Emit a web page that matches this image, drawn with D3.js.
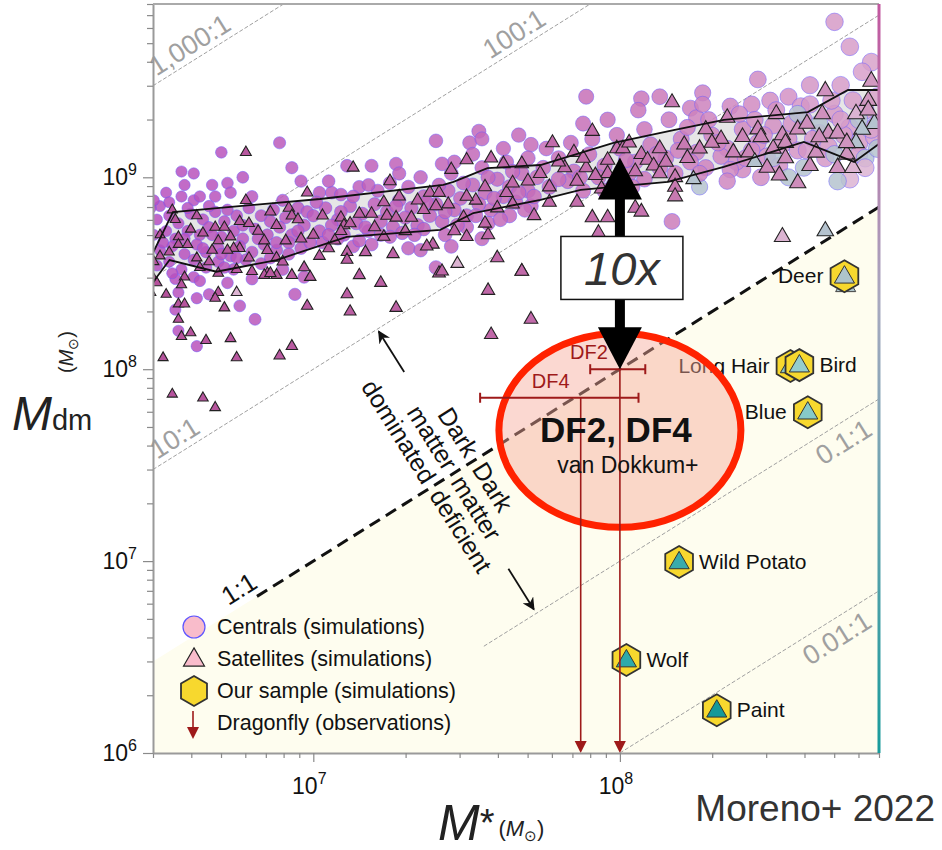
<!DOCTYPE html>
<html>
<head>
<meta charset="utf-8">
<script src="https://cdn.jsdelivr.net/npm/d3@7"></script>
<style>
body { margin: 0; background: #fff; }
svg text { font-family: "Liberation Sans", Helvetica, Arial, sans-serif; }
</style>
</head>
<body>
<div id="chart"></div>
<script>
// all simulation points are log10(M*), log10(Mdm); third item "g" = grey-blue, "p" = pale
const centrals = [
  [6.89,9.18],[6.70,9.13],[6.57,9.03],[6.61,9.02],[6.77,9.00],[6.93,9.05],[6.96,8.98],[6.72,8.97],[6.67,8.96],
  [6.58,8.96],[6.52,8.92],[6.73,8.92],[6.68,8.90],[6.57,8.90],[6.61,8.88],[6.50,8.85],[6.47,8.84],
  [6.49,8.78],[6.53,8.80],[6.56,8.76],[6.60,8.81],[6.64,8.78],[6.68,8.82],[6.71,8.77],[6.75,8.80],[6.79,8.84],
  [6.83,8.80],[6.87,8.83],[6.91,8.79],[6.95,8.84],
  [6.48,8.70],[6.52,8.72],[6.55,8.68],[6.59,8.72],[6.63,8.70],[6.66,8.74],[6.70,8.69],[6.74,8.72],[6.77,8.68],
  [6.81,8.73],[6.85,8.70],[6.89,8.74],[6.93,8.70],[6.97,8.75],
  [6.50,8.62],[6.54,8.64],[6.58,8.60],[6.62,8.65],[6.65,8.61],[6.69,8.63],[6.73,8.59],[6.76,8.64],[6.80,8.61],
  [6.84,8.65],[6.88,8.62],[6.92,8.66],[6.96,8.63],
  [6.49,8.54],[6.53,8.56],[6.57,8.52],[6.61,8.57],[6.65,8.53],[6.69,8.56],[6.74,8.52],[6.78,8.57],[6.83,8.55],
  [6.55,8.47],[6.61,8.48],[6.63,8.46],[6.72,8.45],[6.62,8.37],[6.66,8.39],[6.76,8.33],[6.94,8.39],[6.56,8.40],
  [6.97,8.48],[6.81,8.26],[6.55,8.31],[6.56,8.20],[6.62,8.12],
  [6.48,8.88],[6.51,8.66],[6.54,8.50],[6.59,8.84],[6.63,8.90],[6.66,8.85],[6.70,8.60],[6.72,8.83],[6.77,8.75],
  [6.80,8.90],[6.82,8.68],[6.86,8.77],[6.86,8.58],[6.90,8.88],[6.92,8.60],[6.95,8.72],[6.98,8.82],[6.99,8.66],
  [6.46,8.62],[6.46,8.76],[6.53,8.87],[6.64,8.63],[6.71,8.53],[6.80,8.47],[6.90,8.52],[6.58,8.68],[6.67,8.70],
  [6.75,8.58],[6.88,8.66],
  [7.02,8.92],[7.06,8.92],[7.09,8.91],[7.54,9.24],[7.51,9.18],[7.40,9.19],[7.55,9.20],[7.67,9.22],[7.71,9.17],
  [7.19,9.06],[7.27,9.07],[7.11,9.06],[7.46,9.08],[7.31,8.63],[7.40,8.53],[7.13,8.64],[7.19,8.65],
  [7.00,8.80],[7.04,8.84],[7.08,8.78],[7.12,8.85],[7.16,8.81],[7.20,8.86],[7.24,8.82],[7.28,8.88],[7.32,8.84],
  [7.36,8.90],[7.40,8.86],[7.44,8.93],[7.48,8.89],[7.52,8.96],[7.56,8.92],[7.60,8.99],[7.64,8.95],[7.68,9.02],
  [7.02,8.72],[7.06,8.75],[7.10,8.70],[7.14,8.76],[7.18,8.72],[7.22,8.77],[7.26,8.74],[7.30,8.79],[7.34,8.75],
  [7.38,8.80],[7.42,8.77],[7.46,8.83],[7.50,8.80],[7.54,8.86],[7.58,8.83],[7.62,8.90],[7.66,8.87],[7.70,8.93],
  [7.03,8.66],[7.08,8.68],[7.15,8.67],[7.22,8.70],[7.29,8.71],[7.36,8.73],[7.43,8.70],[7.50,8.74],[7.57,8.76],
  [7.64,8.80],[7.71,8.85],
  [7.05,8.98],[7.15,8.95],[7.25,8.97],[7.35,9.00],[7.45,9.02],[7.55,9.05],[7.63,9.08],[7.70,9.10],
  [7.01,8.87],[7.05,8.70],[7.09,8.82],[7.13,8.90],[7.17,8.74],[7.21,8.93],[7.25,8.69],[7.27,8.85],[7.31,8.95],
  [7.33,8.70],[7.37,8.87],[7.41,8.96],[7.43,8.82],[7.47,8.75],[7.49,8.97],[7.53,8.80],[7.57,9.00],[7.59,8.89],
  [7.61,8.78],[7.65,9.03],[7.67,8.92],[7.69,8.83],[7.73,9.00],[7.72,8.90],[7.35,8.62],[7.45,8.64],[7.55,8.68],
  [7.18,8.96],[7.28,9.02],[7.42,9.07],[7.52,9.12],[7.62,9.15],
  [7.89,9.42],[8.07,9.41],[8.13,9.42],[8.06,9.35],[8.27,9.44],[8.23,9.36],[8.25,9.31],[7.88,9.28],[7.96,9.30],
  [8.17,8.77],[8.70,9.81],[8.75,9.68],[8.45,9.51],[8.82,9.60],[8.79,9.55],[8.62,9.48],[8.72,9.48],[8.49,9.40],
  [8.55,9.42],[8.59,9.37],[8.43,9.38],[8.36,9.37],[8.75,8.99,"p"],[8.40,9.04],[8.26,8.95,"g"],
  [7.75,9.05],[7.80,9.10],[7.85,9.03],[7.90,9.12],[7.95,9.06],[8.00,9.15],[8.05,9.08],[8.10,9.17],[8.15,9.10],
  [8.20,9.20],[8.25,9.13],[8.30,9.22],[8.35,9.15],[8.40,9.25],[8.45,9.18],[8.50,9.27],[8.55,9.20],[8.60,9.30],
  [8.65,9.23],[8.70,9.33],[8.75,9.26],[8.80,9.35],[8.84,9.28],
  [7.77,8.95],[7.83,8.98],[7.88,8.93],[7.93,9.00],[7.98,8.96],[8.03,9.02],[8.08,8.99],[8.13,9.05],[8.18,9.02],
  [8.23,9.08],[8.28,9.05],[8.33,9.11],[8.38,9.08],[8.43,9.14],[8.48,9.11],[8.53,9.17],[8.58,9.14],[8.63,9.20],
  [8.68,9.16],[8.73,9.22],[8.78,9.18],[8.83,9.21],
  [7.76,9.15],[7.80,8.99],[7.84,9.18],[7.87,9.00],[7.91,9.20],[7.95,8.93],[7.99,9.22],[8.02,9.09],[8.04,8.95],
  [8.08,9.25],[8.12,9.12],[8.16,9.30],[8.19,9.14],[8.22,9.26],[8.26,9.02],[8.29,9.30],[8.32,9.18],[8.36,9.04],
  [8.39,9.33],[8.41,9.10],[8.44,9.30],[8.47,9.22],[8.51,9.35],[8.52,9.06],[8.56,9.28],[8.61,9.14],[8.62,9.38],
  [8.67,9.10],[8.69,9.40],[8.72,9.30],[8.76,9.40],[8.78,9.12],[8.82,9.25],[8.84,9.42],[8.46,9.00],[8.35,8.98],
  [8.27,9.38],
  [8.50,9.10,"g"],[8.60,9.05,"g"],[8.70,9.12,"g"],[8.80,9.10,"g"],[8.65,9.28,"g"],[8.78,9.30,"g"],[8.84,9.15,"g"],
  [8.55,9.00,"g"],[8.80,9.05,"p"],[8.71,8.98,"g"],[8.58,9.33,"g"]
];

const satellites = [
  [6.78,9.13],[7.13,9.05],[6.48,8.47],[6.47,8.40],[6.52,8.39],[6.56,8.34],[6.58,8.34],[6.56,8.26],[6.57,8.17],
  [6.60,8.19],[6.65,8.15],[6.73,8.16],[6.71,8.32],[6.69,8.40],[6.68,8.37],[6.51,8.06],[6.75,8.06],[6.89,8.07],
  [6.93,8.12],[6.98,8.33],[7.11,8.39],[7.12,8.30],[7.15,8.49],[7.22,8.45],[7.27,8.32],[6.54,7.87],[6.64,7.85],
  [6.68,7.80],[7.57,8.41],[7.58,8.18],[7.71,8.26],[7.68,8.51],[7.41,8.50],[6.99,8.48],[6.93,8.49],[6.88,8.49],
  [6.85,8.50],[6.75,8.40,"p"],
  [6.78,8.88],[6.54,8.83],[6.68,8.74],[6.60,8.73],[6.76,8.77],[6.79,8.76],[6.71,8.74],[6.92,8.84],[6.93,8.80],
  [6.56,8.69],[6.64,8.71],[6.69,8.67],[6.73,8.69],[6.76,8.63],[6.84,8.67],[6.88,8.75],[6.91,8.67],[6.96,8.68],
  [6.85,8.62],[6.50,8.59],[6.53,8.61],[6.56,8.65],[6.59,8.65],[6.62,8.58],[6.67,8.62],[6.74,8.63],[6.79,8.58],
  [6.88,8.58],[6.48,8.56],[6.49,8.45],[6.58,8.48],[6.57,8.44],[6.63,8.53],[6.69,8.50],[6.75,8.52],[6.80,8.51],
  [6.84,8.49],[6.86,8.50],[6.90,8.56],[6.97,8.53],[7.02,8.59],[7.05,8.63],[7.09,8.79],[7.10,8.75],[6.98,8.92],
  [6.50,8.70],[6.55,8.78],[6.62,8.80],[6.66,8.56],[6.72,8.62],[6.82,8.72],[6.86,8.82],[6.95,8.78],[7.00,8.70],
  [7.03,8.80],[7.07,8.67],[7.20,8.74],[7.30,8.72],[7.34,8.88],[7.46,8.72],[7.53,8.88],[7.63,8.92],[7.70,8.98],
  [7.72,8.80],
  [7.58,9.10],[7.50,9.09],[7.62,9.07],[7.68,9.07],[7.45,9.04],[7.25,8.98],[7.38,8.92],[7.56,8.95],[7.65,8.97],
  [7.41,8.92],[7.28,8.90],[7.23,8.87],[7.50,8.90],[7.44,8.86],[7.36,8.83],[7.32,8.79],[7.40,8.85],[7.15,8.81],
  [7.19,8.81],[7.12,8.76],[7.09,8.72],[7.24,8.80],[7.27,8.79],[7.49,8.79],[7.60,8.84],[7.65,8.86],[7.56,8.76],
  [7.57,8.70],[7.50,8.69],[7.39,8.65],[7.37,8.64],[7.26,8.60],[7.11,8.61],[7.11,8.57],[7.17,8.61],[7.60,8.58],
  [7.47,8.55,"p"],[7.42,8.51],[7.68,8.51],[7.23,8.69],
  [8.17,9.39],[7.91,9.24],[7.78,9.18],[7.85,9.13],[7.99,9.15],[8.01,9.15],[8.13,9.15],[8.21,9.17],[8.26,9.15],
  [7.96,9.09],[8.07,9.12],[8.09,9.09],[7.82,9.05],[7.74,9.02],[7.89,9.05],[8.11,9.06],[7.96,9.02],[8.13,9.02],
  [7.77,8.95],[7.86,8.98],[7.92,9.01],[8.05,9.03],[8.18,9.00],[8.24,8.99,"g"],[8.18,8.95],[8.18,8.90],[7.86,8.87],
  [7.77,8.87],[8.05,8.84],[8.07,8.82],[7.91,8.79],[7.96,8.79],[7.93,8.71],
  [7.80,9.08],[7.88,9.10],[7.94,8.94],[8.03,9.18],[8.15,9.08],[8.22,9.10],[8.28,9.25],[8.33,9.20],[8.45,9.25],
  [8.50,9.15],[8.58,9.25],[8.62,9.06],[8.74,9.12],[8.83,9.28,"g"],[8.77,9.33,"p"],
  [8.67,9.45],[8.82,9.50],[8.51,9.33],[8.35,9.31],[8.66,9.33],[8.81,9.40],[8.81,9.35],[8.61,9.28],[8.79,9.25,"g"],
  [8.53,9.22],[8.40,9.21],[8.46,9.21],[8.68,9.23],[8.71,9.23],[8.30,9.18],[8.37,9.13],[8.42,9.13],[8.54,9.18],
  [8.65,9.21],[8.77,9.18,"g"],[8.44,9.08,"g"],[8.64,9.13],[8.48,9.05],[8.54,9.10],[8.71,9.05],[8.76,9.05,"p"],
  [8.52,9.01],[8.58,8.97],[8.53,8.69,"p"],[8.67,8.72,"g"],[8.74,9.18]
];

// 16th / 84th percentile envelope, log10 values
const bandUpper = [[6.475,8.60],[6.542,8.819],[7.022,8.887],[7.424,8.960],[7.457,8.976],[7.568,9.048],
  [7.741,9.064],[7.979,9.179],[8.175,9.246],[8.339,9.299],[8.613,9.340],[8.744,9.455],[8.849,9.455]];
const bandLower = [[6.475,8.449],[6.531,8.569],[6.684,8.508],[6.880,8.569],[7.109,8.690],[7.414,8.726],
  [7.522,8.814],[7.741,8.882],[7.872,8.934],[8.156,8.976],[8.339,9.054],[8.600,9.184],[8.764,9.080],[8.849,9.179]];

// Our sample (simulations)
const sampleNames = ["Deer", "Long Hair", "Bird", "Blue", "Wild Potato", "Wolf", "Paint"];
const sampleMstar = [5.4e8, 3.6e8, 3.85e8, 4.1e8, 1.56e8, 1.05e8, 2.07e8];
const sampleMdm   = [3.05e8, 1.04e8, 1.05e8, 5.97e7, 9.9e6, 3.05e6, 1.67e6];
const sampleInner = ["#aec4cb", "#8cc6c6", "#95cdcd", "#86c9c9", "#39abab", "#2eaaaa", "#159999"];
const sampleSide  = ["left", "left", "right", "left", "right", "right", "right"];

// Dragonfly observations (upper limits)
const dfNames = ["DF2", "DF4"];
const dfMstar = [1.0e8, 7.45e7];
const dfMdm   = [1.0e8, 7.1e7];
const dfLo    = [8.0e7, 3.5e7];
const dfHi    = [1.21e8, 1.15e8];

// constant Mdm/M* ratio lines
const ratioValues = [1000, 100, 10, 0.1, 0.01];
const ratioLabels = ["1,000:1", "100:1", "10:1", "0.1:1", "0.01:1"];
const ratioStart  = [3e6, 3e6, 3e6, 3.6e7, 1e8];
const ratioLabelAt = [4.2e6, 4.8e7, 3.75e6, 5.0e8, 4.75e8];

const xTicksMajor = [1e7, 1e8];
const yTicksMajor = [1e6, 1e7, 1e8, 1e9];

const W = 942, H = 850;
const margin = {top: 4, left: 153, right: 63, bottom: 97};

const svg = d3.select("#chart").append("svg")
  .attr("width", W).attr("height", H);

const x = d3.scaleLog().domain([3e6, 7e8]).range([margin.left, W - margin.right]);
const y = d3.scaleLog().domain([1e6, 8e9]).range([H - margin.bottom, margin.top]);
const P = v => Math.pow(10, v);

const rScale = d3.scaleLog().domain([3e6, 7e8]).range([5.5, 9]).clamp(true);
const triSide = d3.scaleLog().domain([3e6, 7e8]).range([10, 17]).clamp(true);
const circleColor = d3.scaleLog().domain([3e6, 1e8, 7e8]).range(["#b64fbd", "#c873b6", "#d9a3cb"]).clamp(true);
const triColor = d3.scaleLog().domain([3e6, 1e8, 7e8]).range(["#b5529c", "#c470ad", "#d29ac2"]).clamp(true);

const defs = svg.append("defs");
defs.append("clipPath").attr("id", "plotclip").append("rect")
  .attr("x", x.range()[0]).attr("y", y.range()[1])
  .attr("width", x.range()[1] - x.range()[0])
  .attr("height", y.range()[0] - y.range()[1]);
const grad = defs.append("linearGradient").attr("id", "edge")
  .attr("x1", 0).attr("x2", 0).attr("y1", 0).attr("y2", 1);
grad.append("stop").attr("offset", "0%").attr("stop-color", "#c2579f");
grad.append("stop").attr("offset", "40%").attr("stop-color", "#a8a9bf");
grad.append("stop").attr("offset", "100%").attr("stop-color", "#189b9b");

const plot = svg.append("g").attr("clip-path", "url(#plotclip)");
const x0 = x.domain()[0], x1 = x.domain()[1];
const yBot = y.domain()[0];

// dark-matter-deficient region below 1:1
plot.append("path")
  .attr("d", d3.line()([[x(x0), y(x0)], [x(x1), y(x1)], [x(x1), y(yBot)], [x(x0), y(yBot)]]))
  .attr("fill", "#fefdef");

// ratio lines
ratioValues.forEach((r, i) => {
  const xe = Math.min(x1, y.domain()[1] / r);
  plot.append("line")
    .attr("x1", x(ratioStart[i])).attr("y1", y(ratioStart[i] * r))
    .attr("x2", x(xe)).attr("y2", y(xe * r))
    .attr("stroke", "#a0a0a0").attr("stroke-width", 1)
    .attr("stroke-dasharray", "4,2");
});
const ang = Math.atan2(y(1e8) - y(1e7), x(1e8) - x(1e7)) * 180 / Math.PI;
ratioValues.forEach((r, i) => {
  const m = ratioLabelAt[i];
  svg.append("text")
    .attr("transform", `translate(${x(m)},${y(m * r)}) rotate(${ang})`)
    .attr("y", r < 1 ? 27 : -6)
    .attr("text-anchor", "middle")
    .attr("font-size", 27).attr("fill", "#a0a0a0")
    .text(ratioLabels[i]);
});

// percentile envelope
const toPx = d => [x(P(d[0])), y(P(d[1]))];
plot.append("path")
  .attr("d", d3.line()(bandUpper.map(toPx).concat(bandLower.slice().reverse().map(toPx))) + "Z")
  .attr("fill", "#e6e6e6");

// centrals
const fillFor = (d, sc) => d[2] === "g" ? "#b5c3cf" : d[2] === "p" ? "#dcb4d2" : sc(P(d[0]));
plot.append("g").selectAll("circle")
  .data(centrals)
  .join("circle")
    .attr("cx", d => x(P(d[0])))
    .attr("cy", d => y(P(d[1])))
    .attr("r", d => rScale(P(d[0])))
    .attr("fill", d => fillFor(d, circleColor))
    .attr("fill-opacity", 0.85)
    .attr("stroke", "#6b5cff").attr("stroke-opacity", 0.7).attr("stroke-width", 0.7);

// satellites
const tri = d3.symbol().type(d3.symbolTriangle);
plot.append("g").selectAll("path")
  .data(satellites)
  .join("path")
    .attr("transform", d => `translate(${x(P(d[0]))},${y(P(d[1]))})`)
    .attr("d", d => { const s = triSide(P(d[0])); return tri.size(s * s * Math.sqrt(3) / 4)(); })
    .attr("fill", d => fillFor(d, triColor))
    .attr("stroke", "#222").attr("stroke-width", 1.1);

// envelope edges
[bandUpper, bandLower].forEach(b => {
  plot.append("path").attr("d", d3.line()(b.map(toPx)))
    .attr("fill", "none").attr("stroke", "#111").attr("stroke-width", 1.8);
});

// 1:1 line
const oneStart = 6.55e6;
plot.append("line")
  .attr("x1", x(oneStart)).attr("y1", y(oneStart))
  .attr("x2", x(x1)).attr("y2", y(x1))
  .attr("stroke", "#111").attr("stroke-width", 3).attr("stroke-dasharray", "12,7");
svg.append("text")
  .attr("transform", `translate(${x(6.1e6)},${y(6.1e6)}) rotate(${ang})`)
  .attr("y", -7).attr("text-anchor", "middle")
  .attr("font-size", 26).attr("fill", "#111").text("1:1");

// dark matter dominated / deficient annotation
const ann = svg.append("g")
  .attr("transform", `translate(${x(3.38e7)},${y(3.38e7)}) rotate(${ang + 90})`);
const annLeft = ["Dark", "matter", "dominated"];
const annRight = ["Dark", "matter", "deficient"];
annLeft.forEach((t, i) => {
  ann.append("text").attr("x", -6).attr("y", i * 25).attr("dy", "0.35em")
    .attr("text-anchor", "end").attr("font-size", 25).attr("fill", "#111").text(t);
  ann.append("text").attr("x", 6).attr("y", i * 25).attr("dy", "0.35em")
    .attr("text-anchor", "start").attr("font-size", 25).attr("fill", "#111").text(annRight[i]);
});
defs.append("marker").attr("id", "ahead").attr("viewBox", "0 0 10 10")
  .attr("refX", 9).attr("refY", 5).attr("markerWidth", 7).attr("markerHeight", 7)
  .attr("orient", "auto-start-reverse")
  .append("path").attr("d", "M0,0L10,5L0,10L3,5Z").attr("fill", "#111");
ann.append("line").attr("x1", -112).attr("x2", -160).attr("y1", 14).attr("y2", 14)
  .attr("stroke", "#111").attr("stroke-width", 1.8).attr("marker-end", "url(#ahead)");
ann.append("line").attr("x1", 110).attr("x2", 158).attr("y1", 30).attr("y2", 30)
  .attr("stroke", "#111").attr("stroke-width", 1.8).attr("marker-end", "url(#ahead)");

// hexagon helper
const hexPath = rr => d3.line()(d3.range(6).map(k => {
  const a = Math.PI / 3 * k - Math.PI / 2;
  return [rr * Math.cos(a), rr * Math.sin(a)];
})) + "Z";
const innerTri = d3.symbol().type(d3.symbolTriangle).size(175);

// Deer trail point
plot.append("path")
  .attr("transform", `translate(${x(5.45e8)},${y(2.72e8)})`)
  .attr("d", innerTri()).attr("fill", "#aec4cb").attr("stroke", "#444").attr("stroke-width", 1);

// our sample
sampleNames.forEach((n, i) => {
  const cx = x(sampleMstar[i]), cy = y(sampleMdm[i]);
  const g = svg.append("g").attr("transform", `translate(${cx},${cy})`);
  g.append("path").attr("d", hexPath(16)).attr("fill", "#f7d82e")
    .attr("stroke", "#333").attr("stroke-width", 1.8);
  g.append("path").attr("transform", "translate(0,1)").attr("d", innerTri())
    .attr("fill", sampleInner[i]).attr("stroke", "#333").attr("stroke-width", 1);
  svg.append("text")
    .attr("x", sampleSide[i] === "left" ? cx - 21 : cx + 20)
    .attr("y", cy + 7)
    .attr("text-anchor", sampleSide[i] === "left" ? "end" : "start")
    .attr("font-size", 21).attr("fill", "#111").text(n);
});

// red highlight ellipse
svg.append("ellipse")
  .attr("cx", x(1e8)).attr("cy", y(4.8e7)).attr("rx", 121).attr("ry", 97)
  .attr("fill", "#f7a898").attr("fill-opacity", 0.45)
  .attr("stroke", "#ff2200").attr("stroke-width", 7);

// Dragonfly
const dfc = "#9e1a1a";
dfNames.forEach((n, i) => {
  const cx = x(dfMstar[i]), cy = y(dfMdm[i]);
  svg.append("line").attr("x1", x(dfLo[i])).attr("x2", x(dfHi[i])).attr("y1", cy).attr("y2", cy)
    .attr("stroke", dfc).attr("stroke-width", 2);
  [dfLo[i], dfHi[i]].forEach(v => svg.append("line")
    .attr("x1", x(v)).attr("x2", x(v)).attr("y1", cy - 5).attr("y2", cy + 5)
    .attr("stroke", dfc).attr("stroke-width", 2));
  svg.append("line").attr("x1", cx).attr("x2", cx).attr("y1", cy).attr("y2", y(yBot) - 8)
    .attr("stroke", dfc).attr("stroke-width", 1.6);
  svg.append("path")
    .attr("d", d3.line()([[cx - 6, y(yBot) - 12], [cx + 6, y(yBot) - 12], [cx, y(yBot)]]) + "Z")
    .attr("fill", dfc);
  svg.append("text").attr("x", i === 0 ? cx - 31 : cx - 30).attr("y", cy - 10)
    .attr("text-anchor", "middle").attr("font-size", 20).attr("fill", dfc).text(n);
});

svg.append("text").attr("x", x(1e8) - 4).attr("y", y(4.8e7) + 12)
  .attr("text-anchor", "middle").attr("font-size", 35).attr("font-weight", "bold")
  .attr("fill", "#111").text("DF2, DF4");
svg.append("text").attr("x", x(1e8) + 8).attr("y", y(4.8e7) + 43)
  .attr("text-anchor", "middle").attr("font-size", 23).attr("fill", "#111").text("van Dokkum+");

// 10x arrow
const ax = x(1e8), aTop = y(1.27e9), aBot = y(1e8), hh = 42, hw = 22;
svg.append("rect").attr("x", ax - 5).attr("y", aTop + hh - 2).attr("width", 10)
  .attr("height", aBot - aTop - 2 * hh + 4).attr("fill", "#000");
svg.append("path").attr("d", d3.line()([[ax, aTop], [ax + hw, aTop + hh], [ax - hw, aTop + hh]]) + "Z").attr("fill", "#000");
svg.append("path").attr("d", d3.line()([[ax, aBot], [ax + hw, aBot - hh], [ax - hw, aBot - hh]]) + "Z").attr("fill", "#000");
const by = y(3.35e8);
svg.append("rect").attr("x", ax - 59).attr("y", by - 32).attr("width", 122).attr("height", 63)
  .attr("fill", "#fff").attr("stroke", "#111").attr("stroke-width", 1.5);
svg.append("text").attr("x", ax + 2).attr("y", by + 17).attr("text-anchor", "middle")
  .attr("font-size", 47).attr("font-style", "italic").attr("fill", "#333").text("10x");

// axes
const minorTicks = (lo, hi) => {
  const out = [];
  for (let e = Math.floor(Math.log10(lo)); e <= Math.ceil(Math.log10(hi)); e++)
    for (let k = 1; k <= 9; k++) { const v = k * Math.pow(10, e); if (v >= lo * 0.999 && v <= hi * 1.001) out.push(v); }
  return out;
};
const isMajor = v => Math.abs(Math.log10(v) - Math.round(Math.log10(v))) < 1e-6;

const xAxisG = svg.append("g").attr("transform", `translate(0,${y.range()[0]})`)
  .call(d3.axisBottom(x).tickValues(minorTicks(x0, x1)).tickFormat("").tickSize(5).tickSizeOuter(0));
xAxisG.selectAll(".tick line").attr("y2", d => isMajor(d) ? 9 : 5);
const yAxisG = svg.append("g").attr("transform", `translate(${x.range()[0]},0)`)
  .call(d3.axisLeft(y).tickValues(minorTicks(1e6, 8e9)).tickFormat("").tickSize(5).tickSizeOuter(0));
yAxisG.selectAll(".tick line").attr("x2", d => isMajor(d) ? -10 : -6);
[xAxisG, yAxisG].forEach(g => {
  g.select(".domain").attr("stroke", "#9a9a9a").attr("stroke-width", 2);
  g.selectAll(".tick line").attr("stroke", "#8a8a8a").attr("stroke-width", 1.2);
});

// frame: top and right edge
svg.append("line").attr("x1", x.range()[0]).attr("x2", x.range()[1])
  .attr("y1", y.range()[1]).attr("y2", y.range()[1]).attr("stroke", "#aaa").attr("stroke-width", 2);
svg.append("rect").attr("x", x.range()[1] - 1.5).attr("y", y.range()[1])
  .attr("width", 3).attr("height", y.range()[0] - y.range()[1]).attr("fill", "url(#edge)");

// tick labels
xTicksMajor.forEach(v => {
  const t = svg.append("text").attr("x", x(v) - 4).attr("y", y.range()[0] + 41)
    .attr("text-anchor", "middle").attr("font-size", 23).attr("fill", "#111");
  t.append("tspan").text("10");
  t.append("tspan").attr("dy", -10).attr("font-size", 16).text(Math.round(Math.log10(v)));
});
yTicksMajor.forEach(v => {
  const t = svg.append("text").attr("x", x.range()[0] - 16).attr("y", y(v) + 8)
    .attr("text-anchor", "end").attr("font-size", 23).attr("fill", "#111");
  t.append("tspan").text("10");
  t.append("tspan").attr("dy", -10).attr("font-size", 16).text(Math.round(Math.log10(v)));
});

// axis titles
const yt = svg.append("text").attr("x", 12).attr("y", 430).attr("fill", "#222");
yt.append("tspan").attr("font-size", 48).attr("font-style", "italic").text("M");
yt.append("tspan").attr("font-size", 29).text("dm");
const yu = svg.append("text").attr("transform", "translate(73,352) rotate(-90)")
  .attr("text-anchor", "middle").attr("font-size", 20).attr("fill", "#222");
yu.append("tspan").text("(");
yu.append("tspan").attr("font-style", "italic").text("M");
yu.append("tspan").attr("font-size", 14).attr("dy", 5).text("⊙");
yu.append("tspan").attr("dy", -5).text(")");

const xt = svg.append("text").attr("x", 438).attr("y", 840).attr("fill", "#222");
xt.append("tspan").attr("font-size", 50).attr("font-style", "italic").text("M");
xt.append("tspan").attr("font-size", 38).attr("dy", -4).text("*");
xt.append("tspan").attr("font-size", 22).attr("dx", 4).attr("dy", 0).text("(");
xt.append("tspan").attr("font-size", 22).attr("font-style", "italic").text("M");
xt.append("tspan").attr("font-size", 15).attr("dy", 5).text("⊙");
xt.append("tspan").attr("font-size", 22).attr("dy", -5).text(")");

svg.append("text").attr("x", 935).attr("y", 821).attr("text-anchor", "end")
  .attr("font-size", 37).attr("fill", "#333").text("Moreno+ 2022");

// legend
const legendLabels = ["Centrals (simulations)", "Satellites (simulations)", "Our sample (simulations)", "Dragonfly (observations)"];
const lx = 194, ly0 = 627, lstep = 32;
const lg = svg.append("g");
lg.append("circle").attr("cx", lx).attr("cy", ly0).attr("r", 11)
  .attr("fill", "#f9bccb").attr("stroke", "#5d55ff").attr("stroke-width", 1.2);
lg.append("path").attr("transform", `translate(${lx},${ly0 + lstep + 1})`)
  .attr("d", d3.symbol().type(d3.symbolTriangle).size(190)())
  .attr("fill", "#f9bccb").attr("stroke", "#222").attr("stroke-width", 1.2);
lg.append("path").attr("transform", `translate(${lx},${ly0 + 2 * lstep})`)
  .attr("d", hexPath(15)).attr("fill", "#f7d82e").attr("stroke", "#333").attr("stroke-width", 1.8);
lg.append("line").attr("x1", lx - 1).attr("x2", lx - 1).attr("y1", ly0 + 3 * lstep - 12).attr("y2", ly0 + 3 * lstep + 6)
  .attr("stroke", dfc).attr("stroke-width", 1.6);
lg.append("path").attr("d", d3.line()([[lx - 7, ly0 + 3 * lstep + 4], [lx + 5, ly0 + 3 * lstep + 4], [lx - 1, ly0 + 3 * lstep + 16]]) + "Z")
  .attr("fill", dfc);
legendLabels.forEach((t, i) => {
  lg.append("text").attr("x", 217).attr("y", ly0 + i * lstep + 7)
    .attr("font-size", 21.5).attr("fill", "#111").text(t);
});
</script>
</body>
</html>
